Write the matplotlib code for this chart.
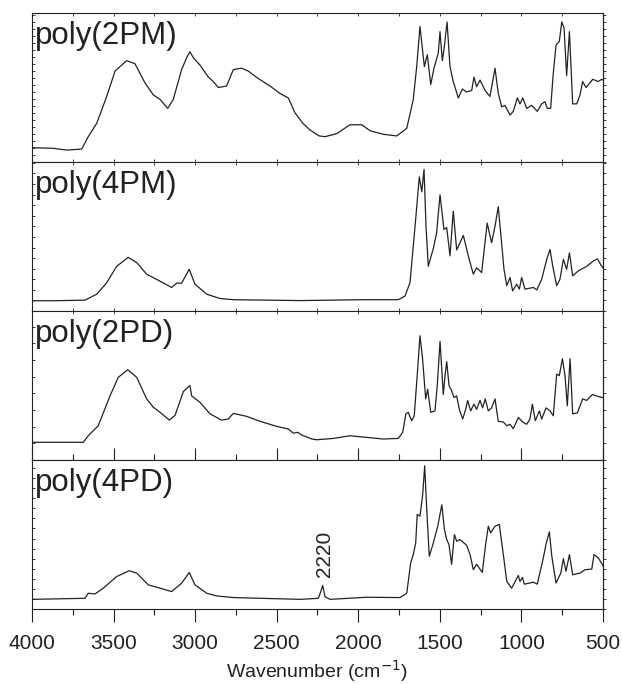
import numpy as np
import matplotlib
matplotlib.use("Agg")
import matplotlib.pyplot as plt
from matplotlib.ticker import MultipleLocator

plt.rcParams['font.family'] = ['Liberation Sans', 'DejaVu Sans']

# panel labels
labels = ["poly(2PM)", "poly(4PM)", "poly(2PD)", "poly(4PD)"]

# spectra (wavenumber, relative absorbance in panel)
wn_2pm = [4000, 3869, 3787, 3695, 3655, 3603, 3542, 3491, 3420, 3369, 3307, 3256, 3215, 3168,
          3134, 3083, 3052, 3032, 3011, 2970, 2919, 2889, 2858, 2807, 2766, 2715, 2674, 2613,
          2541, 2480, 2429, 2388, 2340, 2296, 2240, 2204, 2132, 2051, 1979, 1928, 1847, 1765,
          1703, 1663, 1642, 1622, 1595, 1577, 1556, 1536, 1510, 1499, 1485, 1473, 1456, 1438,
          1418, 1387, 1362, 1336, 1305, 1291, 1275, 1254, 1223, 1193, 1162, 1142, 1121, 1101,
          1070, 1050, 1025, 1009, 992, 968, 937, 903, 876, 856, 842, 821, 805, 788, 768, 753,
          739, 723, 706, 686, 661, 641, 625, 604, 563, 529, 508, 500]
ab_2pm = [0.096, 0.092, 0.080, 0.087, 0.17, 0.26, 0.44, 0.61, 0.68, 0.66, 0.53, 0.45, 0.42, 0.36,
          0.42, 0.62, 0.70, 0.74, 0.70, 0.65, 0.57, 0.54, 0.50, 0.51, 0.62, 0.63, 0.61, 0.56,
          0.51, 0.46, 0.43, 0.33, 0.26, 0.215, 0.175, 0.17, 0.19, 0.25, 0.25, 0.21, 0.186, 0.175,
          0.226, 0.42, 0.64, 0.91, 0.64, 0.72, 0.52, 0.63, 0.73, 0.875, 0.68, 0.77, 0.94, 0.64,
          0.54, 0.43, 0.49, 0.47, 0.48, 0.57, 0.505, 0.55, 0.48, 0.44, 0.63, 0.46, 0.37, 0.38,
          0.315, 0.34, 0.43, 0.39, 0.43, 0.36, 0.38, 0.34, 0.39, 0.405, 0.36, 0.36, 0.595, 0.785,
          0.81, 0.94, 0.90, 0.58, 0.875, 0.39, 0.39, 0.45, 0.54, 0.50, 0.555, 0.54, 0.555, 0.55]

wn_4pm = [4000, 3869, 3675, 3603, 3542, 3481, 3410, 3358, 3297, 3215, 3144, 3113, 3083, 3036,
          3001, 2929, 2848, 2766, 2357, 1969, 1755, 1714, 1683, 1652, 1626, 1611, 1597, 1585,
          1571, 1540, 1520, 1499, 1475, 1458, 1438, 1418, 1397, 1356, 1326, 1295, 1275, 1244,
          1210, 1183, 1162, 1142, 1107, 1090, 1070, 1054, 1029, 1013, 999, 978, 927, 906, 876,
          845, 825, 808, 784, 764, 743, 723, 706, 686, 651, 600, 559, 534, 508, 500]
ab_4pm = [0.069, 0.069, 0.073, 0.113, 0.19, 0.30, 0.36, 0.325, 0.247, 0.20, 0.158, 0.187, 0.187, 0.28,
          0.18, 0.113, 0.084, 0.076, 0.070, 0.076, 0.076, 0.10, 0.19, 0.57, 0.90, 0.80, 0.95, 0.57,
          0.30, 0.42, 0.525, 0.78, 0.547, 0.56, 0.37, 0.67, 0.41, 0.507, 0.37, 0.247, 0.29, 0.258,
          0.59, 0.458, 0.57, 0.70, 0.28, 0.17, 0.225, 0.135, 0.18, 0.147, 0.225, 0.147, 0.158, 0.142, 0.213,
          0.347, 0.413, 0.30, 0.17, 0.213, 0.347, 0.28, 0.39, 0.236, 0.27, 0.30, 0.336, 0.35, 0.30, 0.29]

wn_2pd = [4000, 3685, 3655, 3594, 3522, 3471, 3413, 3358, 3297, 3256, 3215, 3158, 3123, 3072,
          3042, 3032, 3021, 2970, 2909, 2838, 2797, 2766, 2684, 2603, 2501, 2429, 2398, 2371,
          2347, 2285, 2255, 2153, 2051, 1949, 1847, 1755, 1728, 1708, 1694, 1673, 1657, 1639,
          1622, 1606, 1587, 1575, 1556, 1530, 1516, 1499, 1479, 1467, 1458, 1444, 1428, 1414,
          1397, 1381, 1360, 1342, 1330, 1311, 1291, 1275, 1254, 1238, 1222, 1203, 1183, 1162,
          1142, 1111, 1090, 1070, 1050, 1019, 992, 968, 948, 933, 915, 890, 876, 849, 825, 805,
          784, 768, 749, 733, 719, 702, 686, 657, 625, 600, 565, 539, 508, 500]
ab_2pd = [0.119, 0.119, 0.163, 0.23, 0.43, 0.555, 0.606, 0.555, 0.41, 0.354, 0.32, 0.268, 0.30, 0.46,
          0.49, 0.50, 0.43, 0.387, 0.31, 0.268, 0.275, 0.313, 0.293, 0.26, 0.226, 0.208, 0.18, 0.186,
          0.168, 0.141, 0.136, 0.145, 0.163, 0.152, 0.141, 0.145, 0.186, 0.31, 0.32, 0.264, 0.297, 0.566,
          0.834, 0.68, 0.41, 0.475, 0.32, 0.33, 0.50, 0.797, 0.44, 0.58, 0.66, 0.50, 0.465, 0.42,
          0.43, 0.34, 0.275, 0.34, 0.40, 0.33, 0.375, 0.34, 0.40, 0.35, 0.41, 0.33, 0.35, 0.41,
          0.26, 0.255, 0.23, 0.24, 0.21, 0.286, 0.255, 0.24, 0.275, 0.375, 0.264, 0.33, 0.275, 0.35, 0.33, 0.297,
          0.577, 0.566, 0.68, 0.566, 0.364, 0.68, 0.31, 0.316, 0.41, 0.40, 0.44, 0.43, 0.42, 0.42]

wn_4pd = [4000, 3675, 3655, 3614, 3563, 3481, 3404, 3358, 3287, 3215, 3144, 3113, 3083, 3036,
          3001, 2929, 2868, 2766, 2357, 2245, 2230, 2218, 2204, 2173, 1949, 1744, 1703, 1679,
          1663, 1648, 1639, 1622, 1606, 1593, 1581, 1565, 1540, 1513, 1488, 1472, 1458, 1444,
          1428, 1411, 1397, 1377, 1336, 1315, 1295, 1275, 1240, 1220, 1203, 1189, 1162, 1136,
          1111, 1090, 1060, 1033, 1019, 1009, 994, 982, 927, 903, 866, 849, 829, 814, 788, 759,
          743, 727, 706, 686, 641, 610, 569, 555, 529, 505, 500]
ab_4pd = [0.065, 0.072, 0.106, 0.101, 0.14, 0.218, 0.257, 0.241, 0.162, 0.14, 0.117, 0.146, 0.173, 0.245,
          0.162, 0.106, 0.088, 0.077, 0.065, 0.072, 0.117, 0.158, 0.083, 0.065, 0.079, 0.077, 0.106, 0.309,
          0.365, 0.444, 0.635, 0.623, 0.759, 0.961, 0.68, 0.354, 0.444, 0.556, 0.70, 0.534, 0.466, 0.432,
          0.30, 0.50, 0.455, 0.466, 0.428, 0.365, 0.264, 0.30, 0.246, 0.43, 0.556, 0.511, 0.556, 0.568,
          0.365, 0.185, 0.14, 0.196, 0.225, 0.185, 0.212, 0.167, 0.18, 0.167, 0.343, 0.437, 0.518, 0.354, 0.174, 0.241,
          0.338, 0.253, 0.365, 0.23, 0.241, 0.264, 0.268, 0.365, 0.343, 0.30, 0.29]

spectra = [(wn_2pm, ab_2pm), (wn_4pm, ab_4pm), (wn_2pd, ab_2pd), (wn_4pd, ab_4pd)]
ytick_step = [0.047, 0.071, 0.112, 0.0676]

annot_text = "2220"
annot_x = 2208
annot_y = 0.216

ink = "#222222"
fig, axes = plt.subplots(4, 1, figsize=(6.22, 6.84), dpi=100, sharex=True)
fig.subplots_adjust(left=0.0514, right=0.9695, top=0.981, bottom=0.1096, hspace=0)

for i, ax in enumerate(axes):
    wn, ab = spectra[i]
    ax.plot(wn, ab, color=ink, lw=0.9)
    ax.set_xlim(4000, 500)
    ax.set_ylim(0, 1)
    ax.text(0.006, 0.945, labels[i], transform=ax.transAxes, ha="left", va="top",
            fontsize=22.5, color=ink)
    for s in ax.spines.values():
        s.set_color(ink)
        s.set_linewidth(0.8)
    ax.xaxis.set_major_locator(MultipleLocator(500))
    ax.xaxis.set_minor_locator(MultipleLocator(250))
    ax.yaxis.set_major_locator(MultipleLocator(ytick_step[i]))
    ax.set_yticklabels([])
    ax.tick_params(axis="y", which="both", left=True, right=False, direction="in",
                   length=2, width=0.6, color=ink)
    ax.tick_params(axis="x", which="both", top=True, bottom=True, direction="in",
                   length=2, width=0.6, color=ink, labelbottom=False)
    ax2 = ax.secondary_yaxis("right")
    ax2.yaxis.set_major_locator(MultipleLocator(ytick_step[i]))
    ax2.set_yticklabels([])
    ax2.tick_params(direction="out", length=2, width=0.6, color=ink)
    ax2.spines["right"].set_color(ink)
    ax2.spines["right"].set_linewidth(0.8)

bottom = axes[-1]
bottom.tick_params(axis="x", which="major", bottom=True, direction="out", length=9, width=0.8,
                   labelbottom=True, labelsize=15, labelcolor=ink, pad=9)
bottom.tick_params(axis="x", which="minor", bottom=True, direction="out", length=4.5, width=0.8)
bottom.set_xlabel("Wavenumber (cm$^{-1}$)", fontsize=14, color=ink, labelpad=4)
bottom.text(annot_x, annot_y, annot_text, rotation=90, ha="center", va="bottom",
            fontsize=15, color=ink)

fig.savefig("out.png", dpi=100)
